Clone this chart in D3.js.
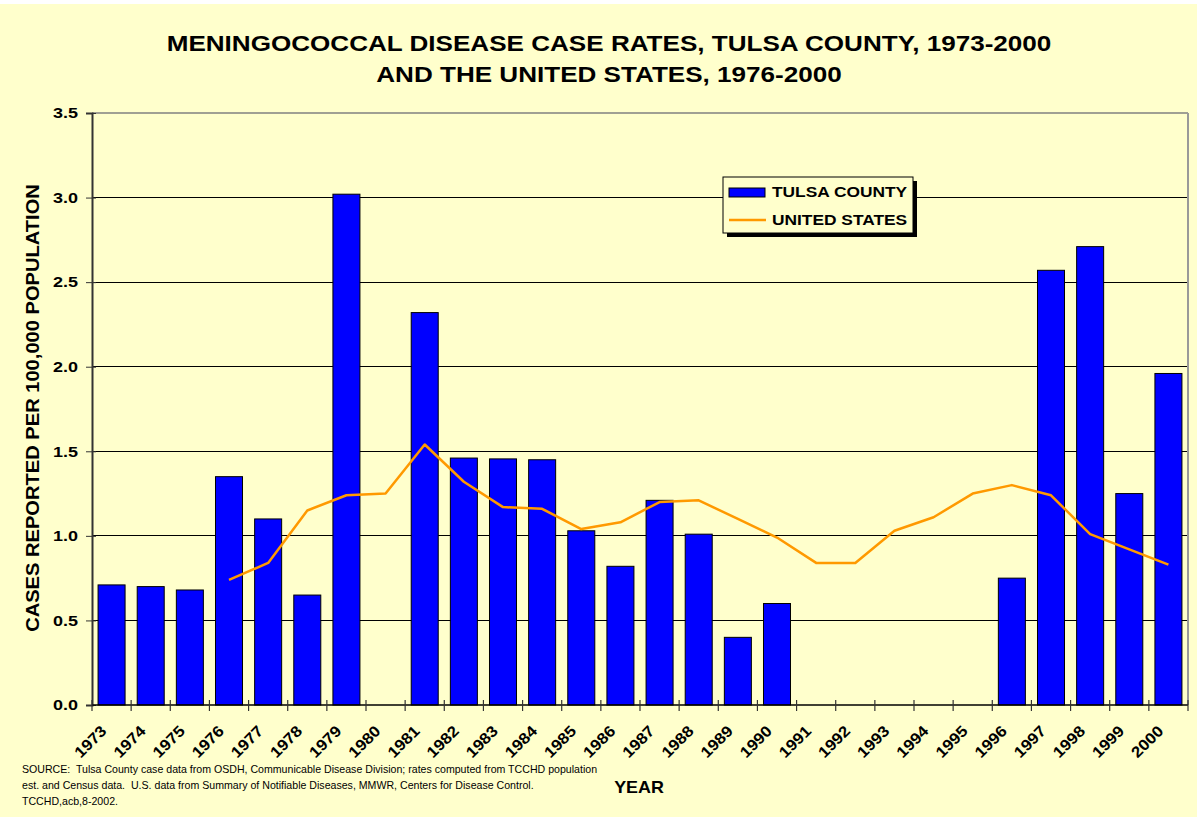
<!DOCTYPE html>
<html>
<head>
<meta charset="utf-8">
<script src="https://cdn.jsdelivr.net/npm/d3@7"></script>
<style>
  html, body { margin: 0; padding: 0; background: #ffffff; }
  svg { display: block; }
  text { font-family: "Liberation Sans", Arial, sans-serif; white-space: pre; }
</style>
</head>
<body>
<svg id="chart" width="1199" height="817"></svg>
<script>
// Reporting years
const years = [1973, 1974, 1975, 1976, 1977, 1978, 1979, 1980, 1981, 1982,
               1983, 1984, 1985, 1986, 1987, 1988, 1989, 1990, 1991, 1992,
               1993, 1994, 1995, 1996, 1997, 1998, 1999, 2000];

// Tulsa County rates per 100,000 (null = no cases reported)
const tulsaRates = [0.71, 0.70, 0.68, 1.35, 1.10, 0.65, 3.02, null, 2.32, 1.46,
                    1.455, 1.45, 1.03, 0.82, 1.21, 1.01, 0.40, 0.60, null, null,
                    null, null, null, 0.75, 2.57, 2.71, 1.25, 1.96];

// United States rates per 100,000, 1976-2000
const usYears = [1976, 1977, 1978, 1979, 1980, 1981, 1982, 1983, 1984, 1985,
                 1986, 1987, 1988, 1989, 1990, 1991, 1992, 1993, 1994, 1995,
                 1996, 1997, 1998, 1999, 2000];
const usRates = [0.74, 0.84, 1.15, 1.24, 1.25, 1.54, 1.32, 1.17, 1.16, 1.04,
                 1.08, 1.20, 1.21, 1.10, 0.99, 0.84, 0.84, 1.03, 1.11, 1.25,
                 1.30, 1.24, 1.01, 0.92, 0.83];

const yTicks = [0, 0.5, 1.0, 1.5, 2.0, 2.5, 3.0, 3.5];

const titleLines = ["MENINGOCOCCAL DISEASE CASE RATES, TULSA COUNTY, 1973-2000",
                    "AND THE UNITED STATES, 1976-2000"];
const sourceLines = [
  "SOURCE:  Tulsa County case data from OSDH, Communicable Disease Division; rates computed from TCCHD population",
  "est. and Census data.  U.S. data from Summary of Notifiable Diseases, MMWR, Centers for Disease Control.",
  "TCCHD,acb,8-2002."
];

const svg = d3.select("#chart");
const W = 1199, H = 817;
const plot = { left: 92, right: 1188, top: 113, bottom: 705 };

// page background
svg.append("rect").attr("x", 0).attr("y", 4).attr("width", 1197).attr("height", H - 4)
  .attr("fill", "#ffffcc");

const x = d3.scaleBand().domain(years).range([plot.left, plot.right]).padding(0);
const y = d3.scaleLinear().domain([0, 3.5]).range([plot.bottom, plot.top]);

// text is drawn slightly wide; this places it with a horizontal stretch
function stretched(sel, tx, ty, sx, rot) {
  sel.attr("transform", `translate(${tx},${ty})${rot ? ` rotate(${rot})` : ""} scale(${sx},1)`);
  return sel;
}

// title
titleLines.forEach((t, i) => {
  stretched(svg.append("text"), 609, 51 + i * 31, 1.17)
    .attr("text-anchor", "middle")
    .attr("font-size", 22.3).attr("font-weight", "bold").attr("fill", "#000")
    .text(t);
});

// gridlines
const g = svg.append("g");
g.selectAll("line.grid").data(yTicks.filter(v => v > 0 && v < 3.5)).join("line")
  .attr("class", "grid")
  .attr("x1", plot.left).attr("x2", plot.right)
  .attr("y1", d => y(d)).attr("y2", d => y(d))
  .attr("stroke", "#000").attr("stroke-width", 1).attr("shape-rendering", "crispEdges");

// plot frame top/right
g.append("line").attr("x1", plot.left).attr("x2", plot.right).attr("y1", y(3.5)).attr("y2", y(3.5))
  .attr("stroke", "#808080").attr("stroke-width", 1.5);
g.append("line").attr("x1", plot.right).attr("x2", plot.right).attr("y1", y(3.5)).attr("y2", plot.bottom)
  .attr("stroke", "#999").attr("stroke-width", 2);

// bars
const barW = x.bandwidth() * 0.69;
g.selectAll("rect.bar").data(years.map((yr, i) => ({ yr, v: tulsaRates[i] })).filter(d => d.v != null))
  .join("rect").attr("class", "bar")
  .attr("x", d => x(d.yr) + (x.bandwidth() - barW) / 2)
  .attr("y", d => y(d.v))
  .attr("width", barW)
  .attr("height", d => y(0) - y(d.v))
  .attr("fill", "#0000ff").attr("stroke", "#000").attr("stroke-width", 1);

// US line
const line = d3.line().x(d => x(d.yr) + x.bandwidth() / 2).y(d => y(d.v));
g.append("path").datum(usYears.map((yr, i) => ({ yr, v: usRates[i] })))
  .attr("d", line).attr("fill", "none").attr("stroke", "#ff9900").attr("stroke-width", 2.5)
  .attr("stroke-linejoin", "round");

// y axis
const yAxis = d3.axisLeft(y).tickValues(yTicks).tickFormat(d3.format(".1f")).tickSize(6).tickPadding(7);
const ya = svg.append("g").attr("transform", `translate(${plot.left},0)`).call(yAxis);
ya.select(".domain").attr("stroke", "#333").attr("stroke-width", 2);
ya.selectAll(".tick line").attr("stroke", "#333").attr("x2", -6).attr("x1", 4);
ya.selectAll(".tick text").attr("font-size", 15).attr("font-weight", "bold")
  .attr("font-family", "Liberation Sans, Arial, sans-serif").attr("fill", "#000")
  .attr("x", 0).attr("transform", "translate(-14,0) scale(1.2,1)");

// x axis
const xa = svg.append("g").attr("transform", `translate(0,${plot.bottom})`);
xa.append("line").attr("x1", plot.left).attr("x2", plot.right).attr("y1", 0).attr("y2", 0)
  .attr("stroke", "#000").attr("stroke-width", 1.5);
const boundaries = years.map(yr => x(yr)).concat([plot.right]);
xa.selectAll("line.tk").data(boundaries).join("line").attr("class", "tk")
  .attr("x1", d => d).attr("x2", d => d).attr("y1", -5).attr("y2", 6)
  .attr("stroke", "#333").attr("stroke-width", 1.2);
xa.selectAll("text.yr").data(years).join("text").attr("class", "yr")
  .attr("transform", d => `translate(${x(d) + x.bandwidth() / 2 - 4},${27}) rotate(-45) scale(1.1,1)`)
  .attr("text-anchor", "end")
  .attr("font-size", 15.5).attr("font-weight", "bold").attr("fill", "#000")
  .text(d => d);

// axis titles
stretched(svg.append("text"), 39, 408, 1.15, -90)
  .attr("text-anchor", "middle").attr("font-size", 17.5).attr("font-weight", "bold").attr("fill", "#000")
  .text("CASES REPORTED PER 100,000 POPULATION");
stretched(svg.append("text"), 639, 793, 1.12)
  .attr("text-anchor", "middle")
  .attr("font-size", 16).attr("font-weight", "bold").attr("fill", "#000").text("YEAR");

// source note
sourceLines.forEach((t, i) => {
  svg.append("text").attr("x", 22).attr("y", 773 + i * 16)
    .attr("font-size", 10.6).attr("fill", "#000").text(t);
});

// legend
const lg = svg.append("g").attr("transform", "translate(723,177)");
lg.append("rect").attr("x", 4).attr("y", 4).attr("width", 190).attr("height", 56).attr("fill", "#000");
lg.append("rect").attr("x", 0).attr("y", 0).attr("width", 190).attr("height", 56)
  .attr("fill", "#ffffcc").attr("stroke", "#000").attr("stroke-width", 1);
lg.append("rect").attr("x", 6).attr("y", 11).attr("width", 36).attr("height", 9)
  .attr("fill", "#0000ff").attr("stroke", "#000").attr("stroke-width", 1);
lg.append("line").attr("x1", 6).attr("x2", 43).attr("y1", 43).attr("y2", 43)
  .attr("stroke", "#ff9900").attr("stroke-width", 2.5);
stretched(lg.append("text"), 49, 20, 1.12).attr("font-size", 15.5).attr("font-weight", "bold")
  .attr("fill", "#000").text("TULSA COUNTY");
stretched(lg.append("text"), 49, 48, 1.12).attr("font-size", 15.5).attr("font-weight", "bold")
  .attr("fill", "#000").text("UNITED STATES");
</script>
</body>
</html>
